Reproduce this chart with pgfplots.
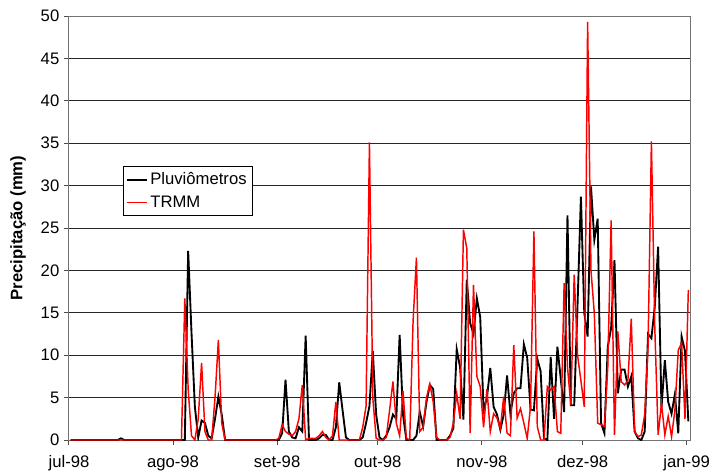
\documentclass[border=0pt]{standalone}
\usepackage{fontspec}
\setmainfont{Liberation Sans}
\usepackage{pgfplots}
\usepackage{pgfplotstable}
\pgfplotsset{compat=1.18}
\pgfplotstableread{
k p t
0 0 0
1 0 0
2 0 0
3 0 0
4 0 0
5 0 0
6 0 0
7 0 0
8 0 0
9 0 0
10 0 0
11 0 0
12 0 0
13 0 0
14 0 0
15 0.2 0
16 0 0
17 0 0
18 0 0
19 0 0
20 0 0
21 0 0
22 0 0
23 0 0
24 0 0
25 0 0
26 0 0
27 0 0
28 0 0
29 0 0
30 0 0
31 0 0
32 0 0
33 0 0
34 0 16.7
35 22.3 6
36 12.6 0.5
37 3.9 0
38 0.3 2.5
39 2.3 9.1
40 2.0 1.0
41 0.5 0
42 0.2 0
43 2.5 5
44 5.1 11.8
45 3.0 2
46 0 0
47 0 0
48 0 0
49 0 0
50 0 0
51 0 0
52 0 0
53 0 0
54 0 0
55 0 0
56 0 0
57 0 0
58 0 0
59 0 0
60 0 0
61 0 0
62 0 0.2
63 0.8 1.8
64 7.1 1.0
65 1.0 0.7
66 0.3 0.5
67 0.2 1.0
68 1.5 2.5
69 1.0 6.5
70 12.3 0
71 0 0.2
72 0 0.2
73 0 0.2
74 0.2 0.5
75 0.6 1.0
76 0.6 0.3
77 0 0
78 0 0.5
79 1.5 4.5
80 6.8 0
81 3.5 0
82 0.3 0
83 0 0
84 0 0
85 0 0
86 0 0
87 0.3 1.5
88 2.0 4
89 4.0 35.1
90 10.5 5
91 3.0 0.2
92 0.3 0
93 0 0
94 0.5 0.3
95 1.5 3.5
96 3.0 6.9
97 2.5 2.0
98 12.4 0.5
99 3.0 5.8
100 0 0.2
101 0 0
102 0 14
103 0.5 21.5
104 3.3 1.0
105 1.6 1.5
106 4.5 5.0
107 6.5 6.6
108 6.0 4.5
109 0 0.3
110 0 0
111 0 0
112 0 0
113 0.5 0.3
114 1.4 2.0
115 10.7 5.5
116 8.6 2.5
117 2.4 24.8
118 18.9 22.6
119 13.8 0.8
120 12.5 18.3
121 16.7 7.5
122 14.5 6.3
123 3.5 1.5
124 5.0 6.0
125 8.5 1.0
126 3.9 3.1
127 3.0 2.6
128 1.2 1.4
129 3.0 5.1
130 7.6 0.8
131 3.1 0.5
132 5.5 11.2
133 6.1 2.6
134 6.1 3.7
135 11.3 2.0
136 9.7 0.2
137 3.6 4.0
138 3.5 24.6
139 9.6 1.6
140 8.1 0
141 0.2 0
142 0 6.3
143 9.8 5.9
144 2.5 6.3
145 11.0 1.0
146 7.2 0.8
147 3.3 18.5
148 26.5 8.6
149 4.1 4.1
150 4.1 19.5
151 16.0 10.0
152 28.7 7.0
153 15.0 3.9
154 12.2 49.3
155 29.9 20.0
156 23.6 14.9
157 26.1 2.0
158 2.0 1.8
159 0.8 1.6
160 11.0 8.6
161 13.2 25.9
162 21.2 0.6
163 5.5 12.8
164 8.3 6.9
165 8.3 6.5
166 6.3 7.0
167 7.5 14.3
168 1.0 1.0
169 0.2 0.4
170 0 0.6
171 1.0 3.0
172 12.5 11.0
173 12.0 35.2
174 15.7 13.4
175 22.8 0.6
176 3.8 4.3
177 9.4 0.6
178 4.5 2.8
179 3.1 0.4
180 5.4 3.5
181 0.8 10.6
182 12.2 11.4
183 10.5 2.5
184 2.2 17.7
}\data

\begin{document}
\begin{tikzpicture}
\begin{axis}[
  scale only axis, width=465.75pt, height=318pt,
  xmin=0, xmax=185, ymin=0, ymax=50,
  xtick={0,31,62,92,123,153,184},
  xticklabels={jul-98,ago-98,set-98,out-98,nov-98,dez-98,jan-99},
  ytick={0,5,...,50},
  ymajorgrids, grid style={black!85, line width=0.75pt},
  axis line style={black!55, line width=0.75pt},
  tick style={black!70, line width=0.75pt},
  tick align=outside, tick pos=left,
  major tick length=3.75pt,
  ticklabel style={font=\fontsize{12.5}{15}\selectfont},
  xticklabel style={yshift=-4.5pt},
  /pgf/number format/assume math mode=true,
  ylabel={Precipitação (mm)},
  ylabel style={font=\bfseries\fontsize{12.5}{15}\selectfont, at={(axis description cs:-0.082,0.5)}, anchor=center},
  legend style={at={(axis description cs:0.0865,0.647)}, anchor=north west, draw=black, line width=0.6pt, fill=white, font=\fontsize{12.5}{15}\selectfont, row sep=2.5pt, inner xsep=2pt, inner ysep=3pt},
  legend cell align=left,
  legend image code/.code={\draw[#1] (0pt,0pt) -- (15pt,0pt);},
]
\addplot[black, line width=1.4pt] table[x expr=\thisrow{k}+0.5, y=p] {\data};
\addlegendentry{Pluviômetros}
\addplot[red, line width=1.1pt] table[x expr=\thisrow{k}+0.5, y=t] {\data};
\addlegendentry{TRMM}
\end{axis}
\pgfresetboundingbox
\path[use as bounding box] (-51.75pt,-24pt) rectangle (482.25pt,330pt);
\end{tikzpicture}
\end{document}
